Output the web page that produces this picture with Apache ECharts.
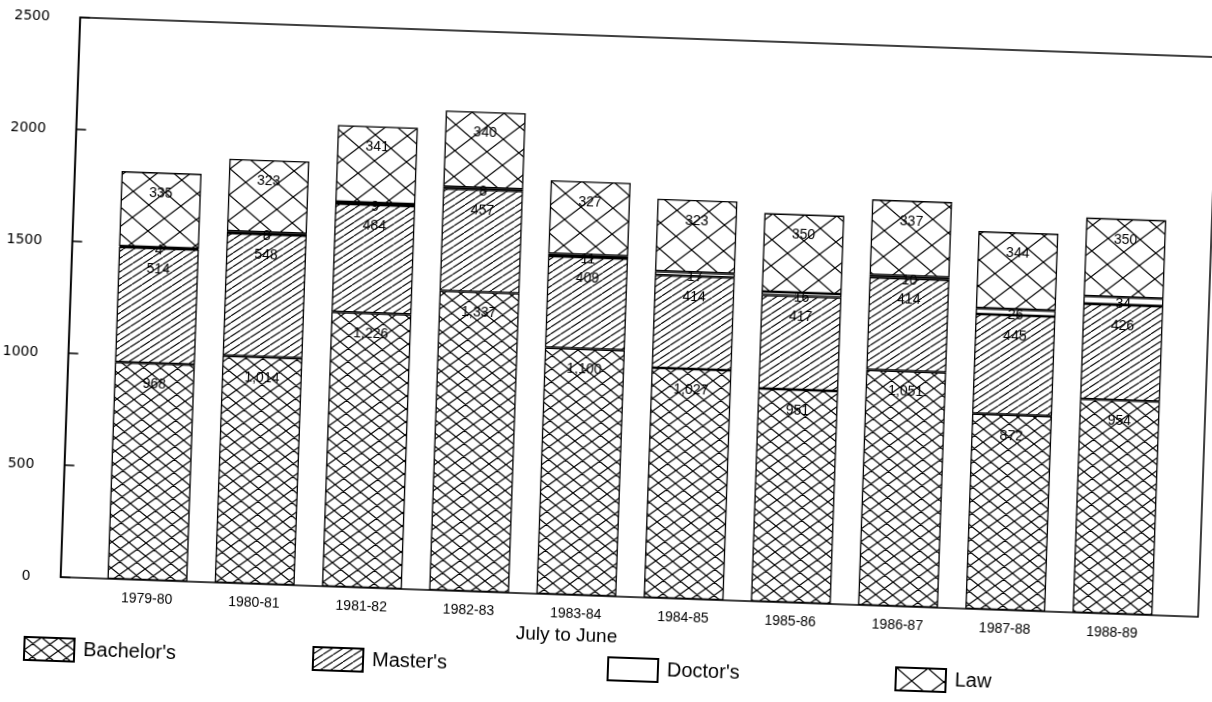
<!DOCTYPE html>
<html>
<head>
<meta charset="utf-8">
<script src="https://cdn.jsdelivr.net/npm/echarts@6/dist/echarts.min.js"></script>
<style>
  html, body { margin: 0; padding: 0; background: #fff; overflow: hidden; }
  #chart { width: 1212px; height: 702px; transform: rotate(2deg); transform-origin: 606px 351px; }
</style>
</head>
<body>
<div id="chart"></div>
<script>
// ---- data ----
const years = ['1979-80','1980-81','1981-82','1982-83','1983-84','1984-85','1985-86','1986-87','1987-88','1988-89'];
const bachelors = [968, 1014, 1226, 1337, 1100, 1027, 951, 1051, 872, 954];
const masters   = [514, 548, 484, 457, 409, 414, 417, 414, 445, 426];
const doctors   = [4, 8, 9, 8, 11, 17, 16, 10, 26, 34];
const law       = [335, 323, 341, 340, 327, 323, 350, 337, 344, 350];
const yTicks = { min: 0, max: 2500, interval: 500 };
const xTitle = 'July to June';

// ---- hatch patterns ----
function makePattern(w, h, mode, lw) {
  const c = document.createElement('canvas');
  c.width = w; c.height = h;
  const ctx = c.getContext('2d');
  ctx.fillStyle = '#fff';
  ctx.fillRect(0, 0, w, h);
  ctx.strokeStyle = '#000';
  ctx.lineWidth = lw;
  ctx.beginPath();
  for (let k = -1; k <= 1; k++) {
    ctx.moveTo(k * w, h); ctx.lineTo(k * w + w, 0);
    if (mode === 'cross') { ctx.moveTo(k * w, 0); ctx.lineTo(k * w + w, h); }
  }
  ctx.stroke();
  return { image: c, repeat: 'repeat' };
}
const fillBachelor = makePattern(17, 13, 'cross', 1.2);
const fillMaster   = makePattern(10, 7, 'single', 1.1);
const fillLaw      = makePattern(32, 26, 'cross', 1.2);

const fmt = p => Number(p.value).toLocaleString('en-US');
const labelFont = { fontFamily: 'Liberation Sans', fontSize: 14, color: '#000' };

function barSeries(name, data, fill, labelPos, dist, offset) {
  return {
    name, type: 'bar', stack: 'total', data,
    xAxisIndex: 1, yAxisIndex: 1,
    barWidth: 80,
    itemStyle: { color: fill, borderColor: '#000', borderWidth: 1.3 },
    emphasis: { disabled: true },
    label: Object.assign({ show: true, position: labelPos, distance: dist, offset: offset, formatter: fmt }, labelFont)
  };
}

const legendBase = {
  orient: 'horizontal', top: 651, itemWidth: 50, itemHeight: 23, icon: 'rect',
  selectedMode: false,
  textStyle: { fontFamily: 'Liberation Sans', fontSize: 20, color: '#000', padding: [4, 0, 0, 4] }
};

const chart = echarts.init(document.getElementById('chart'));
chart.setOption({
  animation: false,
  backgroundColor: '#fff',
  grid: [
    { left: 68, right: 5, top: 36, bottom: 106, show: true, borderColor: '#000', borderWidth: 1.5, backgroundColor: 'transparent' },
    { left: 102, right: 37, top: 36, bottom: 106 }
  ],
  xAxis: [
    { type: 'value', gridIndex: 0, show: false, min: 0, max: 1 },
    {
      type: 'category', gridIndex: 1, data: years,
      axisLine: { show: false }, axisTick: { show: false },
      axisLabel: { margin: 12, fontFamily: 'Liberation Sans', fontSize: 14, color: '#000' },
      name: xTitle, nameLocation: 'middle', nameGap: 30,
      nameTextStyle: { fontFamily: 'Liberation Sans', fontSize: 19, color: '#000', padding: [0, 124, 0, 0] }
    }
  ],
  yAxis: [
    {
      type: 'value', gridIndex: 0, min: yTicks.min, max: yTicks.max, interval: yTicks.interval,
      axisLine: { show: true, lineStyle: { color: '#000', width: 1.5 } },
      axisTick: { show: true, inside: true, length: 10, lineStyle: { color: '#000', width: 1.5 } },
      axisLabel: { margin: 30, fontFamily: 'DejaVu Sans', fontSize: 14, color: '#000', formatter: v => String(v) },
      splitLine: { show: false }
    },
    { type: 'value', gridIndex: 1, min: yTicks.min, max: yTicks.max, show: false }
  ],
  legend: [
    Object.assign({}, legendBase, { left: 29, data: ["Bachelor's"] }),
    Object.assign({}, legendBase, { left: 318, data: ["Master's"] }),
    Object.assign({}, legendBase, { left: 613, data: ["Doctor's"] }),
    Object.assign({}, legendBase, { left: 901, data: ['Law'] })
  ],
  series: [
    barSeries("Bachelor's", bachelors, fillBachelor, 'insideTop', 14, [0, 0]),
    barSeries("Master's", masters, fillMaster, 'insideTop', 14, [0, 0]),
    barSeries("Doctor's", doctors, '#fff', 'inside', 0, [0, 3]),
    barSeries('Law', law, fillLaw, 'insideTop', 14, [0, 0])
  ]
});
</script>
</body>
</html>
